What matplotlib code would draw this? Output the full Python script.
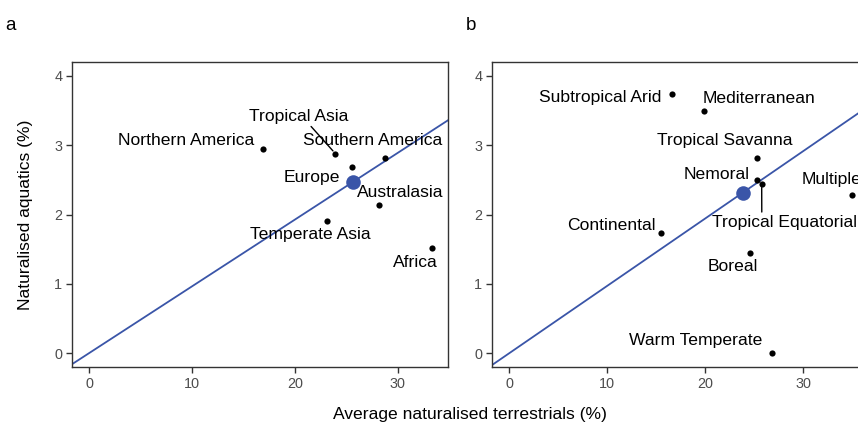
import numpy as np
import matplotlib.pyplot as plt

plt.rcParams['font.family'] = ['Liberation Sans', 'DejaVu Sans']

# panel a: regions
regions = ['Northern America', 'Tropical Asia', 'Europe', 'Southern America',
           'Australasia', 'Temperate Asia', 'Africa']
regions_terr = [16.94, 23.94, 25.53, 28.75, 28.17, 23.15, 33.37]
regions_aqua = [2.95, 2.88, 2.69, 2.82, 2.14, 1.91, 1.51]
regions_mean = (25.66, 2.47)

# panel b: climate zones
climates = ['Subtropical Arid', 'Mediterranean', 'Tropical Savanna', 'Nemoral',
            'Tropical Equatorial', 'Multiple', 'Continental', 'Boreal', 'Warm Temperate']
climates_terr = [16.57, 19.84, 25.24, 25.24, 25.75, 34.94, 15.51, 24.53, 26.8]
climates_aqua = [3.74, 3.49, 2.82, 2.50, 2.44, 2.28, 1.73, 1.45, 0.0]
climates_mean = (23.82, 2.315)

# label offsets in pixels (dx right, dy up), plus leader anchor if a segment is drawn
offsets_a = {
    'Northern America': (-76.7, 7.7, None),
    'Tropical Asia': (-36.6, 37.3, (0.6, 0.0)),
    'Europe': (-40, -10.7, None),
    'Southern America': (-12, 17, None),
    'Australasia': (21.3, 12.7, None),
    'Temperate Asia': (-17, -14, None),
    'Africa': (-17.3, -14, None),
}
offsets_b = {
    'Subtropical Arid': (-71.7, -3.3, None),
    'Mediterranean': (55.6, 13, None),
    'Tropical Savanna': (-32, 17, None),
    'Nemoral': (-40, 5.7, None),
    'Tropical Equatorial': (23.3, -38.3, (0.34, 1.0)),
    'Multiple': (-20, 16, None),
    'Continental': (-49.6, 7.4, None),
    'Boreal': (-17, -14, None),
    'Warm Temperate': (-76.7, 12.3, None),
}

blue = '#3A55A8'
dpi = 100
fig = plt.figure(figsize=(8.58, 4.28), dpi=dpi)
px = 72.0 / dpi  # points per pixel


def draw_panel(ax, names, xs, ys, mean, offsets, xlim):
    ax.set_xlim(*xlim)
    ax.set_ylim(-0.2, 4.2)
    slope = mean[1] / mean[0]
    lx = np.array(xlim)
    ax.plot(lx, slope * lx, color=blue, lw=1.3, zorder=2)
    ax.scatter(xs, ys, s=20, color='black', zorder=3, linewidths=0)
    ax.scatter([mean[0]], [mean[1]], s=110, color=blue, zorder=4, linewidths=0)
    for name, x, y in zip(names, xs, ys):
        dx, dy, rel = offsets[name]
        kw = {}
        if rel is not None:
            kw['arrowprops'] = dict(arrowstyle='-', color='black', lw=1.0,
                                    relpos=rel, shrinkA=0, shrinkB=2.5)
        ax.annotate(name, (x, y), xytext=(dx * px, dy * px), textcoords='offset points',
                    ha='center', va='center', fontsize=12.6, color='black', zorder=5, **kw)
    ax.set_xticks([0, 10, 20, 30])
    ax.set_yticks([0, 1, 2, 3, 4])
    for s in ax.spines.values():
        s.set_color('#333333')
        s.set_linewidth(1.0)
    ax.tick_params(colors='#333333', labelcolor='#4D4D4D', labelsize=10.4,
                   length=4, width=1.0, pad=3)


ax1 = fig.add_axes([72 / 858, 61 / 428, 376 / 858, 305 / 428])
draw_panel(ax1, regions, regions_terr, regions_aqua, regions_mean, offsets_a, (-1.66, 34.9))
ax1.set_ylabel('Naturalised aquatics (%)', fontsize=12.6, labelpad=15)

ax2 = fig.add_axes([492.2 / 858, 61 / 428, 376.7 / 858, 305 / 428])
draw_panel(ax2, climates, climates_terr, climates_aqua, climates_mean, offsets_b, (-1.75, 36.69))

fig.text(470 / 858, 1 - 414 / 428, 'Average naturalised terrestrials (%)', fontsize=12.6,
         ha='center', va='center')
fig.text(10 / 858, 1 - 25 / 428, 'a', fontsize=13.5, ha='center', va='center')
fig.text(470.7 / 858, 1 - 25 / 428, 'b', fontsize=13.5, ha='center', va='center')

fig.savefig('out.png', dpi=dpi)
